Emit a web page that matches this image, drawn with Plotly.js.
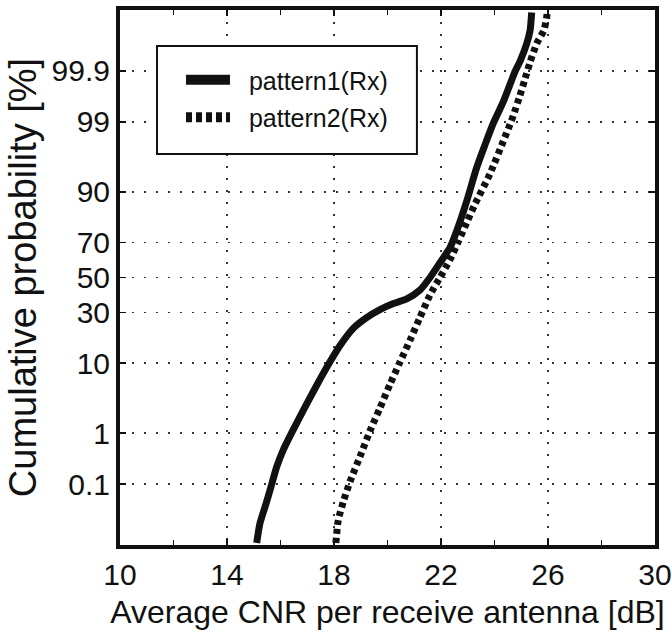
<!DOCTYPE html>
<html>
<head>
<meta charset="utf-8">
<script src="https://cdn.plot.ly/plotly-3.0.1.min.js"></script>
<style>
  html, body { margin: 0; padding: 0; background: #fff; }
  #chart { width: 672px; height: 637px; }
</style>
</head>
<body>
<div id="chart"></div>
<script>
// ---- Data (x in dB, cumulative probability in %) ----
const pattern1X = [15.11, 15.23, 15.42, 15.61, 15.86, 16.10, 16.42, 16.73, 17.10, 17.48, 17.85, 18.22, 18.72, 19.22, 19.72, 20.22, 20.72, 21.21, 21.59, 21.96, 22.34, 22.59, 22.96, 23.33, 23.64, 23.96, 24.33, 24.77, 24.95, 25.20, 25.33, 25.39];
const pattern1P = [0.0036, 0.0117, 0.030, 0.074, 0.233, 0.494, 1.02, 1.876, 3.593, 6.426, 10.38, 15.39, 22.36, 27.43, 31.56, 34.83, 37.45, 42.47, 50.0, 58.71, 67.36, 75.80, 87.29, 94.95, 97.61, 98.96, 99.573, 99.897, 99.938, 99.976, 99.989, 99.9963];

const pattern2X = [18.07, 18.16, 18.35, 18.60, 18.97, 19.35, 19.72, 20.09, 20.47, 20.84, 21.21, 21.59, 21.96, 22.34, 22.65, 22.96, 23.25, 23.83, 24.33, 24.58, 24.70, 24.95, 25.14, 25.33, 25.58, 25.85, 25.95, 25.97];
const pattern2P = [0.0036, 0.0142, 0.0404, 0.114, 0.368, 1.10, 2.56, 5.48, 10.38, 17.36, 27.43, 39.74, 50.0, 60.64, 70.54, 79.39, 85.99, 93.94, 97.93, 98.90, 99.22, 99.674, 99.851, 99.936, 99.9767, 99.9892, 99.9950, 99.9964];

const seriesNames = ['pattern1(Rx)', 'pattern2(Rx)'];
const xTicks = [10, 14, 18, 22, 26, 30];
const yTickPercents = [0.1, 1, 10, 30, 50, 70, 90, 99, 99.9];
const yTickLabels = ['0.1', '1', '10', '30', '50', '70', '90', '99', '99.9'];

// ---- Normal-probability (probit) scale helper ----
function probit(p) {
  // Acklam's inverse normal CDF
  const a = [-3.969683028665376e+01, 2.209460984245205e+02, -2.759285104469687e+02, 1.383577518672690e+02, -3.066479806614716e+01, 2.506628277459239e+00];
  const b = [-5.447609879822406e+01, 1.615858368580409e+02, -1.556989798598866e+02, 6.680131188771972e+01, -1.328068155288572e+01];
  const c = [-7.784894002430293e-03, -3.223964580411365e-01, -2.400758277161838e+00, -2.549732539343734e+00, 4.374664141464968e+00, 2.938163982698783e+00];
  const d = [7.784695709041462e-03, 3.224671290700398e-01, 2.445134137142996e+00, 3.754408661907416e+00];
  const pl = 0.02425, ph = 1 - pl;
  let q, r;
  if (p < pl) {
    q = Math.sqrt(-2 * Math.log(p));
    return (((((c[0]*q + c[1])*q + c[2])*q + c[3])*q + c[4])*q + c[5]) / ((((d[0]*q + d[1])*q + d[2])*q + d[3])*q + 1);
  } else if (p <= ph) {
    q = p - 0.5; r = q * q;
    return (((((a[0]*r + a[1])*r + a[2])*r + a[3])*r + a[4])*r + a[5])*q / (((((b[0]*r + b[1])*r + b[2])*r + b[3])*r + b[4])*r + 1);
  } else {
    q = Math.sqrt(-2 * Math.log(1 - p));
    return -(((((c[0]*q + c[1])*q + c[2])*q + c[3])*q + c[4])*q + c[5]) / ((((d[0]*q + d[1])*q + d[2])*q + d[3])*q + 1);
  }
}
const toZ = arr => arr.map(v => probit(v / 100));

const FONT = 'Liberation Sans, Arial, Helvetica, sans-serif';
const INK = '#111';
const DASH2 = '5px,4px';

const traces = [
  {
    x: pattern1X, y: toZ(pattern1P), name: seriesNames[0], showlegend: false,
    type: 'scatter', mode: 'lines',
    line: { color: INK, width: 7, shape: 'spline', smoothing: 0.6 },
    hoverinfo: 'skip'
  },
  {
    x: pattern2X, y: toZ(pattern2P), name: seriesNames[1], showlegend: false,
    type: 'scatter', mode: 'lines',
    line: { color: INK, width: 7, dash: DASH2, shape: 'spline', smoothing: 0.6 },
    hoverinfo: 'skip'
  },
  // legend entries (thicker samples, as in the original legend)
  {
    x: [null], y: [null], name: '\u00a0\u00a0' + seriesNames[0], legendgroup: 'a',
    type: 'scatter', mode: 'lines', line: { color: INK, width: 12 }, hoverinfo: 'skip'
  },
  {
    x: [null], y: [null], name: '\u00a0\u00a0' + seriesNames[1], legendgroup: 'b',
    type: 'scatter', mode: 'lines', line: { color: INK, width: 13, dash: '6px,4px' }, hoverinfo: 'skip'
  }
];

const layout = {
  width: 672, height: 637,
  margin: { l: 120, r: 17, t: 10, b: 92 },
  paper_bgcolor: '#fff', plot_bgcolor: '#fff',
  font: { family: FONT, color: INK },
  showlegend: true,
  legend: {
    x: 0.114, y: 0.912, xanchor: 'left', yanchor: 'top',
    bgcolor: 'rgba(0,0,0,0)', borderwidth: 0,
    font: { family: FONT, size: 25, color: INK },
    itemwidth: 44, traceorder: 'grouped', tracegroupgap: 2
  },
  shapes: [{
    type: 'rect', xref: 'paper', yref: 'paper', layer: 'above',
    x0: 0.0692, x1: 0.555, y0: 0.7308, y1: 0.9327,
    fillcolor: '#fff', line: { color: INK, width: 2 }
  }],
  xaxis: {
    range: [10, 30], tickmode: 'array', tickvals: xTicks, ticktext: xTicks.map(String),
    ticks: 'inside', ticklen: 6, tickwidth: 1.5, tickcolor: INK,
    showline: true, linewidth: 4, linecolor: INK, mirror: 'allticks',
    showgrid: true, gridcolor: '#333', gridwidth: 1.5, griddash: '2px,10px',
    zeroline: false,
    tickfont: { family: FONT, size: 30, color: INK },
    minor: { dtick: 2, tick0: 10, ticks: 'inside', ticklen: 5, tickwidth: 1.5, tickcolor: INK, showgrid: false },
    title: { text: 'Average CNR per receive antenna [dB]', font: { family: FONT, size: 32, color: INK }, standoff: 12 }
  },
  yaxis: {
    range: [-4, 4], tickmode: 'array', tickvals: yTickPercents.map(v => probit(v / 100)), ticktext: yTickLabels,
    ticks: 'inside', ticklen: 6, tickwidth: 1.5, tickcolor: INK,
    showline: true, linewidth: 4, linecolor: INK, mirror: 'allticks',
    showgrid: true, gridcolor: '#333', gridwidth: 1.5, griddash: '2px,10px',
    zeroline: false,
    tickfont: { family: FONT, size: 30, color: INK },
    title: { text: 'Cumulative probability [%]', font: { family: FONT, size: 38, color: INK }, standoff: 4 }
  }
};

Plotly.newPlot('chart', traces, layout, { displayModeBar: false, staticPlot: true });
</script>
</body>
</html>
